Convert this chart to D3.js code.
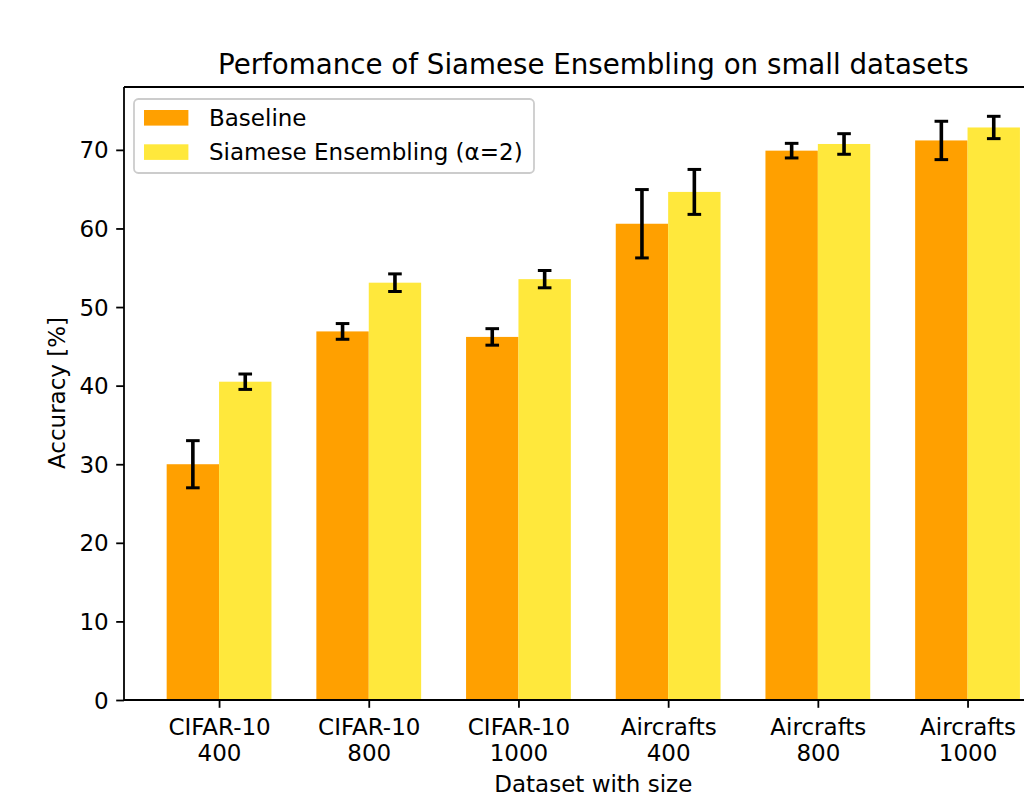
<!DOCTYPE html>
<html><head><meta charset="utf-8">
<script src="https://cdn.jsdelivr.net/npm/d3@7"></script>
<style>
html,body{margin:0;padding:0;background:#fff;}
text{font-family:"DejaVu Sans",sans-serif;fill:#000;}
</style></head>
<body>
<svg id="chart" width="1024" height="800"></svg>
<script>
const categories = ["CIFAR-10\n400","CIFAR-10\n800","CIFAR-10\n1000","Aircrafts\n400","Aircrafts\n800","Aircrafts\n1000"];
const baseline = [30.0, 46.9, 46.2, 60.6, 69.9, 71.2];
const baselineErr = [3.0, 1.0, 1.05, 4.35, 0.93, 2.44];
const siamese = [40.5, 53.1, 53.55, 64.65, 70.75, 72.85];
const siameseErr = [0.98, 1.12, 1.1, 2.86, 1.31, 1.42];
const seriesNames = ["Baseline", "Siamese Ensembling (\u03b1=2)"];
const seriesColors = ["#ffa000", "#ffe83c"];
const yTicks = [0,10,20,30,40,50,60,70];

(function(){
const svg = d3.select("#chart");
const mLeft = 124, mTop = 87, mBottom = 700, mRight = 1062.6;
const barW = 0.35;
const fs = 23, fsTitle = 27.7;
const x = d3.scaleLinear().domain([-0.635, 5.635]).range([mLeft, mRight]);
const y = d3.scaleLinear().domain([0, 78.0]).range([mBottom, mTop]);

const series = [
  {name: seriesNames[0], vals: baseline, err: baselineErr, color: seriesColors[0], off: -barW/2},
  {name: seriesNames[1], vals: siamese, err: siameseErr, color: seriesColors[1], off: barW/2}
];

const plot = svg.append("g");
series.forEach(s => {
  plot.selectAll(null).data(s.vals).enter().append("rect")
    .attr("x", (d,i) => x(i + s.off - barW/2))
    .attr("width", x(barW) - x(0))
    .attr("y", d => y(d))
    .attr("height", d => y(0) - y(d))
    .attr("fill", s.color);
});
const capHalf = 6.8;
series.forEach(s => {
  const g = plot.append("g").attr("stroke", "#000").attr("stroke-width", 3.6);
  s.vals.forEach((v,i) => {
    const cx = x(i + s.off);
    g.append("line").attr("x1", cx).attr("x2", cx).attr("y1", y(v - s.err[i])).attr("y2", y(v + s.err[i]));
    g.append("line").attr("x1", cx-capHalf).attr("x2", cx+capHalf).attr("y1", y(v - s.err[i])).attr("y2", y(v - s.err[i])).attr("stroke-width", 3);
    g.append("line").attr("x1", cx-capHalf).attr("x2", cx+capHalf).attr("y1", y(v + s.err[i])).attr("y2", y(v + s.err[i])).attr("stroke-width", 3);
  });
});

// spines
svg.append("line").attr("x1", mLeft).attr("x2", mLeft).attr("y1", mTop).attr("y2", mBottom).attr("stroke","#000").attr("stroke-width",1.8);
svg.append("line").attr("x1", mLeft).attr("x2", mRight).attr("y1", mBottom).attr("y2", mBottom).attr("stroke","#000").attr("stroke-width",1.8);
svg.append("line").attr("x1", mLeft).attr("x2", mRight).attr("y1", mTop).attr("y2", mTop).attr("stroke","#000").attr("stroke-width",1.8);

// y axis
const yAxis = d3.axisLeft(y).tickValues(yTicks).tickSize(7.8).tickPadding(7.5);
const gy = svg.append("g").attr("transform", `translate(${mLeft},0)`).call(yAxis);
gy.select(".domain").remove();
gy.selectAll(".tick line").attr("stroke","#000").attr("stroke-width",1.8);
gy.selectAll(".tick text").attr("font-size", fs).attr("font-family","DejaVu Sans").attr("fill","#000").attr("dy","0.35em");

// x axis
const xAxis = d3.axisBottom(x).tickValues(d3.range(categories.length)).tickSize(7.8).tickFormat("");
const gx = svg.append("g").attr("transform", `translate(0,${mBottom})`).call(xAxis);
gx.select(".domain").remove();
gx.selectAll(".tick line").attr("stroke","#000").attr("stroke-width",1.8);
gx.selectAll(".tick").each(function(d,i){
  const lines = categories[i].split("\n");
  const t = d3.select(this).append("text").attr("text-anchor","middle").attr("font-size",fs).attr("fill","#000").attr("font-family","DejaVu Sans");
  lines.forEach((ln,k) => t.append("tspan").attr("x",0).attr("y", 35 + k*26.3).text(ln));
});

// labels
svg.append("text").attr("x", (mLeft+mRight)/2).attr("y", 792).attr("text-anchor","middle").attr("font-size",fs).text("Dataset with size");
svg.append("text").attr("transform","translate(65,393) rotate(-90)").attr("text-anchor","middle").attr("font-size",fs).text("Accuracy [%]");
svg.append("text").attr("x", (mLeft+mRight)/2).attr("y", 74).attr("text-anchor","middle").attr("font-size",fsTitle).text("Perfomance of Siamese Ensembling on small datasets");

// legend
const lg = svg.append("g");
lg.append("rect").attr("x",134).attr("y",99).attr("width",400).attr("height",74).attr("rx",4.4)
  .attr("fill","#fff").attr("fill-opacity",0.8).attr("stroke","#cccccc").attr("stroke-width",1.8);
series.forEach((s,k) => {
  lg.append("rect").attr("x",144).attr("y",110 + k*34.3).attr("width",44.4).attr("height",15.6).attr("fill",s.color);
  lg.append("text").attr("x",209).attr("y",118 + k*34.3).attr("dy","0.35em").attr("font-size",fs).text(s.name);
});
})();
</script>
</body></html>
